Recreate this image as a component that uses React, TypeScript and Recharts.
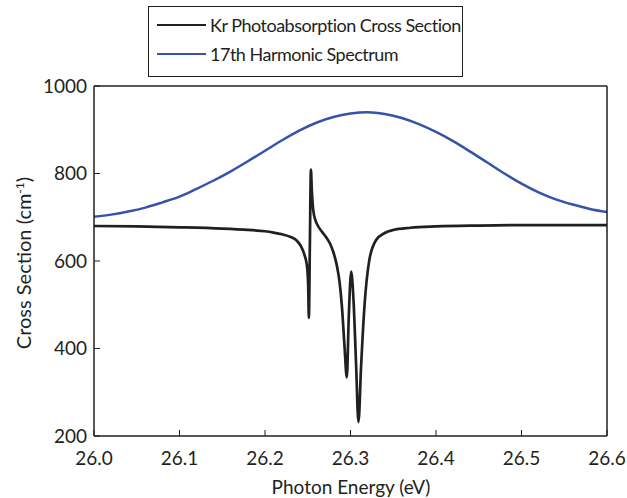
import { LineChart, Line, XAxis, YAxis, Label } from "recharts";

// Kr photoabsorption cross section (cm^-1)
const krEnergy = [
  26.0, 26.05, 26.1, 26.15, 26.18, 26.2, 26.21, 26.22, 26.23, 26.237,
  26.242, 26.246, 26.249, 26.2505, 26.2513, 26.2525, 26.2537, 26.2548, 26.2565, 26.259,
  26.262, 26.267, 26.2716, 26.276, 26.28, 26.284, 26.287, 26.29, 26.293, 26.2957,
  26.298, 26.3008, 26.3035, 26.3066, 26.3093, 26.3124, 26.3163, 26.322, 26.33, 26.34,
  26.35, 26.37, 26.4, 26.45, 26.5, 26.6,
];
const krCross = [
  680, 679, 677, 674, 671, 668, 665, 661, 655, 647,
  634, 615, 590, 545, 470, 640, 809, 760, 715, 693,
  680, 666, 654, 640, 620, 590, 555, 495, 405, 334,
  473, 576, 511, 360, 232, 360, 496, 602, 648, 664,
  671, 676, 679, 681, 682, 682,
];

// 17th harmonic spectrum (plotted on the same scale)
const harmonicEnergy = [
  26.0, 26.02, 26.04, 26.06, 26.08, 26.1, 26.12, 26.14, 26.16, 26.18,
  26.2, 26.22, 26.24, 26.26, 26.28, 26.3, 26.32, 26.34, 26.36, 26.38,
  26.4, 26.42, 26.44, 26.46, 26.48, 26.5, 26.52, 26.54, 26.56, 26.58, 26.6,
];
const harmonicValue = [
  701, 706, 713, 722, 734, 747, 765, 784, 805, 828,
  852, 876, 898, 916, 929, 937, 940, 936, 927, 913,
  895, 874, 850, 825, 800, 777, 757, 741, 729, 719, 712,
];

const xTicks = [26.0, 26.1, 26.2, 26.3, 26.4, 26.5, 26.6];
const yTicks = [200, 400, 600, 800, 1000];

const krData = krEnergy.map((e, i) => ({ e, v: krCross[i] }));
const harmonicData = harmonicEnergy.map((e, i) => ({ e, v: harmonicValue[i] }));

const FONT = "Lato, 'Open Sans', sans-serif";
const INK = "#231f20";
const BLUE = "#3553a8";

const frameLine = { stroke: INK, strokeWidth: 1.5 };
const tickStyle = { stroke: INK, strokeWidth: 1 };

export default function App() {
  return (
    <div style={{ position: "absolute", left: 0, top: 0, width: 627, height: 498, background: "#fff", fontFamily: FONT }}>
      <LineChart
        width={627}
        height={498}
        margin={{ top: 85, right: 19, bottom: 0, left: 0 }}
        style={{ fontFamily: FONT }}
      >
        <XAxis
          xAxisId="b"
          dataKey="e"
          type="number"
          domain={[26.0, 26.6]}
          ticks={xTicks}
          tickFormatter={(v: number) => v.toFixed(1)}
          height={62}
          tickSize={-6}
          tickMargin={22}
          axisLine={frameLine}
          tickLine={tickStyle}
          tick={{ fill: INK, fontSize: 19 }}
          allowDataOverflow
        >
          <Label
            content={() => (
              <text x={351} y={494} textAnchor="middle" fill={INK} fontSize={19} fontFamily={FONT}>
                Photon Energy (eV)
              </text>
            )}
          />
        </XAxis>
        <XAxis
          xAxisId="t"
          dataKey="e"
          orientation="top"
          type="number"
          domain={[26.0, 26.6]}
          ticks={xTicks}
          height={1}
          tickSize={-6}
          tick={false}
          axisLine={frameLine}
          tickLine={tickStyle}
          allowDataOverflow
        />
        <YAxis
          yAxisId="l"
          type="number"
          domain={[200, 1000]}
          ticks={yTicks}
          width={94}
          tickSize={-6}
          tickMargin={13}
          axisLine={frameLine}
          tickLine={tickStyle}
          tick={{ fill: INK, fontSize: 19 }}
          allowDataOverflow
        >
          <Label
            content={() => (
              <text
                x={31}
                y={263}
                textAnchor="middle"
                fill={INK}
                fontSize={20}
                fontFamily={FONT}
                transform="rotate(-90 31 263)"
              >
                Cross Section (cm
                <tspan dy={-7} fontSize={12}>-1</tspan>
                <tspan dy={7}>)</tspan>
              </text>
            )}
          />
        </YAxis>
        <YAxis
          yAxisId="r"
          orientation="right"
          type="number"
          domain={[200, 1000]}
          ticks={yTicks}
          width={1}
          tickSize={-6}
          tick={false}
          axisLine={frameLine}
          tickLine={tickStyle}
          allowDataOverflow
        />
        {/* invisible series so the top/right frame axes are drawn */}
        <Line
          xAxisId="t"
          yAxisId="r"
          data={harmonicData}
          dataKey="v"
          stroke="none"
          dot={false}
          activeDot={false}
          legendType="none"
          isAnimationActive={false}
        />
        <Line
          xAxisId="b"
          yAxisId="l"
          data={harmonicData}
          dataKey="v"
          type="monotone"
          stroke={BLUE}
          strokeWidth={2.5}
          dot={false}
          isAnimationActive={false}
        />
        <Line
          xAxisId="b"
          yAxisId="l"
          data={krData}
          dataKey="v"
          type="monotone"
          stroke={INK}
          strokeWidth={2.7}
          dot={false}
          isAnimationActive={false}
        />
      </LineChart>

      <div
        style={{
          position: "absolute",
          left: 148,
          top: 6,
          width: 315,
          height: 71,
          border: `1.5px solid ${INK}`,
          boxSizing: "border-box",
          background: "#fff",
          fontSize: 18,
          letterSpacing: -0.5,
          color: INK,
        }}
      >
        {[
          { name: "Kr Photoabsorption Cross Section", color: INK },
          { name: "17th Harmonic Spectrum", color: BLUE },
        ].map((item, i) => (
          <div
            key={item.name}
            style={{ position: "absolute", left: 8, top: 3 + i * 29, height: 29, display: "flex", alignItems: "center", whiteSpace: "nowrap" }}
          >
            <svg width={50} height={6} style={{ marginRight: 3 }}>
              <line x1={0} y1={3} x2={49} y2={3} stroke={item.color} strokeWidth={2} />
            </svg>
            <span>{item.name}</span>
          </div>
        ))}
      </div>
    </div>
  );
}
